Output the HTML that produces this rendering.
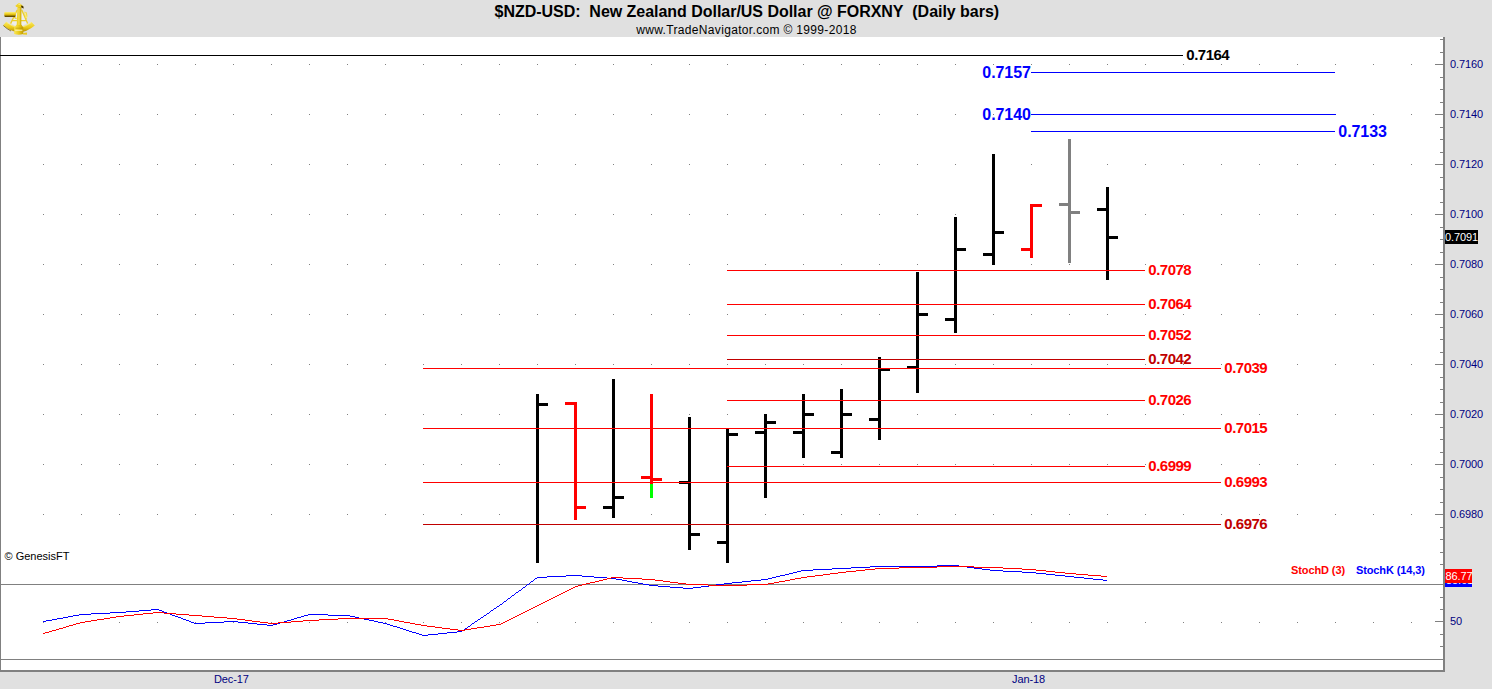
<!DOCTYPE html><html><head><meta charset="utf-8"><title>chart</title><style>
html,body{margin:0;padding:0}body{width:1492px;height:689px;background:#e0e0e0;position:relative;overflow:hidden;font-family:"Liberation Sans",sans-serif}
.t{position:absolute;white-space:nowrap;line-height:1}
.b{font-weight:bold}
.ax{font-size:11px;color:#000080;letter-spacing:-0.1px}
</style></head><body>
<svg width="1492" height="689" viewBox="0 0 1492 689" shape-rendering="crispEdges" style="position:absolute;left:0;top:0">
<defs><pattern id="dots" x="43" y="64" width="38" height="50" patternUnits="userSpaceOnUse"><rect x="0" y="0" width="1" height="1" fill="#808080"/></pattern></defs>
<rect x="0" y="37" width="1443" height="633" fill="#fff"/>
<rect x="43" y="64" width="1369" height="451" fill="url(#dots)"/>
<g fill="#808080"><rect x="43" y="622" width="1" height="1"/><rect x="81" y="622" width="1" height="1"/><rect x="119" y="622" width="1" height="1"/><rect x="157" y="622" width="1" height="1"/><rect x="195" y="622" width="1" height="1"/><rect x="233" y="622" width="1" height="1"/><rect x="271" y="622" width="1" height="1"/><rect x="309" y="622" width="1" height="1"/><rect x="347" y="622" width="1" height="1"/><rect x="385" y="622" width="1" height="1"/><rect x="423" y="622" width="1" height="1"/><rect x="461" y="622" width="1" height="1"/><rect x="499" y="622" width="1" height="1"/><rect x="537" y="622" width="1" height="1"/><rect x="575" y="622" width="1" height="1"/><rect x="613" y="622" width="1" height="1"/><rect x="651" y="622" width="1" height="1"/><rect x="689" y="622" width="1" height="1"/><rect x="727" y="622" width="1" height="1"/><rect x="765" y="622" width="1" height="1"/><rect x="803" y="622" width="1" height="1"/><rect x="841" y="622" width="1" height="1"/><rect x="879" y="622" width="1" height="1"/><rect x="917" y="622" width="1" height="1"/><rect x="955" y="622" width="1" height="1"/><rect x="993" y="622" width="1" height="1"/><rect x="1031" y="622" width="1" height="1"/><rect x="1069" y="622" width="1" height="1"/><rect x="1107" y="622" width="1" height="1"/><rect x="1145" y="622" width="1" height="1"/><rect x="1183" y="622" width="1" height="1"/><rect x="1221" y="622" width="1" height="1"/><rect x="1259" y="622" width="1" height="1"/><rect x="1297" y="622" width="1" height="1"/><rect x="1335" y="622" width="1" height="1"/><rect x="1373" y="622" width="1" height="1"/><rect x="1411" y="622" width="1" height="1"/></g>
<rect x="0" y="37" width="1" height="635" fill="#808080"/>
<rect x="0" y="584" width="1443" height="1" fill="#808080"/>
<rect x="0" y="659" width="1443" height="1" fill="#808080"/>
<g fill="#000">
<rect x="536" y="394" width="3" height="169"/>
<rect x="539" y="403" width="9" height="3"/>
</g>
<g fill="#f00">
<rect x="574" y="402" width="3" height="118"/>
<rect x="565" y="402" width="9" height="3"/>
<rect x="577" y="506" width="9" height="3"/>
</g>
<g fill="#000">
<rect x="612" y="379" width="3" height="139"/>
<rect x="603" y="506" width="9" height="3"/>
<rect x="615" y="496" width="9" height="3"/>
</g>
<g fill="#f00">
<rect x="650" y="394" width="3" height="90"/>
<rect x="641" y="476" width="9" height="3"/>
<rect x="653" y="478" width="9" height="3"/>
</g>
<g fill="#000">
<rect x="688" y="417" width="3" height="133"/>
<rect x="679" y="481" width="9" height="3"/>
<rect x="691" y="533" width="9" height="3"/>
</g>
<g fill="#000">
<rect x="726" y="428" width="3" height="135"/>
<rect x="717" y="541" width="9" height="3"/>
<rect x="729" y="433" width="9" height="3"/>
</g>
<g fill="#000">
<rect x="764" y="414" width="3" height="84"/>
<rect x="755" y="431" width="9" height="3"/>
<rect x="767" y="421" width="9" height="3"/>
</g>
<g fill="#000">
<rect x="802" y="394" width="3" height="64"/>
<rect x="793" y="431" width="9" height="3"/>
<rect x="805" y="413" width="9" height="3"/>
</g>
<g fill="#000">
<rect x="840" y="389" width="3" height="69"/>
<rect x="831" y="451" width="9" height="3"/>
<rect x="843" y="413" width="9" height="3"/>
</g>
<g fill="#000">
<rect x="878" y="357" width="3" height="83"/>
<rect x="869" y="418" width="9" height="3"/>
<rect x="881" y="368" width="9" height="3"/>
</g>
<g fill="#000">
<rect x="916" y="272" width="3" height="121"/>
<rect x="907" y="366" width="9" height="3"/>
<rect x="919" y="313" width="9" height="3"/>
</g>
<g fill="#000">
<rect x="954" y="217" width="3" height="116"/>
<rect x="945" y="318" width="9" height="3"/>
<rect x="957" y="248" width="9" height="3"/>
</g>
<g fill="#000">
<rect x="992" y="154" width="3" height="111"/>
<rect x="983" y="253" width="9" height="3"/>
<rect x="995" y="231" width="9" height="3"/>
</g>
<g fill="#f00">
<rect x="1030" y="204" width="3" height="54"/>
<rect x="1021" y="248" width="9" height="3"/>
<rect x="1033" y="204" width="9" height="3"/>
</g>
<g fill="#808080">
<rect x="1068" y="139" width="3" height="124"/>
<rect x="1059" y="203" width="9" height="3"/>
<rect x="1071" y="211" width="9" height="3"/>
</g>
<g fill="#000">
<rect x="1106" y="187" width="3" height="93"/>
<rect x="1097" y="208" width="9" height="3"/>
<rect x="1109" y="236" width="9" height="3"/>
</g>
<rect x="650" y="484" width="3" height="14" fill="#0f0"/>
<rect x="0" y="55" width="1183" height="1" fill="#000"/>
<rect x="1031" y="72" width="304" height="1" fill="#00f"/>
<rect x="1031" y="114" width="305" height="1" fill="#00f"/>
<rect x="1031" y="131" width="304" height="1" fill="#00f"/>
<rect x="727" y="270" width="418" height="1" fill="#f00"/>
<rect x="727" y="304" width="418" height="1" fill="#f00"/>
<rect x="727" y="335" width="418" height="1" fill="#f00"/>
<rect x="727" y="359" width="418" height="1" fill="#c00000"/>
<rect x="423" y="368" width="798" height="1" fill="#f00"/>
<rect x="727" y="400" width="418" height="1" fill="#f00"/>
<rect x="423" y="428" width="798" height="1" fill="#f00"/>
<rect x="727" y="466" width="418" height="1" fill="#f00"/>
<rect x="423" y="482" width="798" height="1" fill="#f00"/>
<rect x="423" y="524" width="798" height="1" fill="#c00000"/>
<path d="M937 565h22v1h-22zM870 566h67v1h-67zM959 566h8v1h-8zM851 567h19v1h-19zM967 567h7v1h-7zM832 568h19v1h-19zM974 568h8v1h-8zM813 569h19v1h-19zM982 569h8v1h-8zM801 570h12v1h-12zM990 570h13v1h-13zM797 571h4v1h-4zM1003 571h19v1h-19zM793 572h4v1h-4zM1022 572h14v1h-14zM789 573h4v1h-4zM1036 573h10v1h-10zM785 574h4v1h-4zM1046 574h9v1h-9zM566 575h16v1h-16zM780 575h5v1h-5zM1055 575h10v1h-10zM547 576h19v1h-19zM582 576h12v1h-12zM776 576h4v1h-4zM1065 576h9v1h-9zM537 577h10v1h-10zM594 577h13v1h-13zM772 577h4v1h-4zM1074 577h10v1h-10zM535 578h2v1h-2zM607 578h9v1h-9zM768 578h4v1h-4zM1084 578h9v1h-9zM534 579h1v1h-1zM616 579h6v1h-6zM761 579h7v1h-7zM1093 579h10v1h-10zM533 580h1v1h-1zM622 580h5v1h-5zM751 580h10v1h-10zM1103 580h4v1h-4zM531 581h2v1h-2zM627 581h5v1h-5zM742 581h9v1h-9zM530 582h1v1h-1zM632 582h6v1h-6zM732 582h10v1h-10zM529 583h1v1h-1zM638 583h5v1h-5zM724 583h8v1h-8zM527 584h2v1h-2zM643 584h6v1h-6zM716 584h8v1h-8zM526 585h1v1h-1zM649 585h9v1h-9zM709 585h7v1h-7zM525 586h1v1h-1zM658 586h12v1h-12zM701 586h8v1h-8zM523 587h2v1h-2zM670 587h13v1h-13zM693 587h8v1h-8zM522 588h1v1h-1zM683 588h10v1h-10zM521 589h1v1h-1zM519 590h2v1h-2zM518 591h1v1h-1zM516 592h2v1h-2zM515 593h1v1h-1zM514 594h1v1h-1zM512 595h2v1h-2zM511 596h1v1h-1zM510 597h1v1h-1zM508 598h2v1h-2zM507 599h1v1h-1zM506 600h1v1h-1zM504 601h2v1h-2zM503 602h1v1h-1zM502 603h1v1h-1zM500 604h2v1h-2zM499 605h1v1h-1zM497 606h2v1h-2zM496 607h1v1h-1zM494 608h2v1h-2zM151 609h8v1h-8zM493 609h1v1h-1zM139 610h12v1h-12zM159 610h3v1h-3zM491 610h2v1h-2zM126 611h13v1h-13zM162 611h2v1h-2zM490 611h1v1h-1zM110 612h16v1h-16zM164 612h3v1h-3zM489 612h1v1h-1zM91 613h19v1h-19zM167 613h3v1h-3zM487 613h2v1h-2zM79 614h12v1h-12zM170 614h2v1h-2zM308 614h20v1h-20zM486 614h1v1h-1zM73 615h6v1h-6zM172 615h3v1h-3zM304 615h4v1h-4zM328 615h22v1h-22zM484 615h2v1h-2zM68 616h5v1h-5zM175 616h3v1h-3zM301 616h3v1h-3zM350 616h5v1h-5zM483 616h1v1h-1zM63 617h5v1h-5zM178 617h3v1h-3zM297 617h4v1h-4zM355 617h4v1h-4zM481 617h2v1h-2zM57 618h6v1h-6zM181 618h2v1h-2zM294 618h3v1h-3zM359 618h5v1h-5zM480 618h1v1h-1zM52 619h5v1h-5zM183 619h3v1h-3zM291 619h3v1h-3zM364 619h5v1h-5zM478 619h2v1h-2zM46 620h6v1h-6zM186 620h3v1h-3zM287 620h4v1h-4zM369 620h5v1h-5zM477 620h1v1h-1zM43 621h3v1h-3zM189 621h2v1h-2zM224 621h14v1h-14zM284 621h3v1h-3zM374 621h4v1h-4zM475 621h2v1h-2zM191 622h3v1h-3zM205 622h19v1h-19zM238 622h10v1h-10zM280 622h4v1h-4zM378 622h5v1h-5zM474 622h1v1h-1zM194 623h11v1h-11zM248 623h9v1h-9zM277 623h3v1h-3zM383 623h4v1h-4zM472 623h2v1h-2zM257 624h10v1h-10zM273 624h4v1h-4zM387 624h3v1h-3zM471 624h1v1h-1zM267 625h6v1h-6zM390 625h3v1h-3zM470 625h1v1h-1zM393 626h4v1h-4zM468 626h2v1h-2zM397 627h3v1h-3zM467 627h1v1h-1zM400 628h3v1h-3zM465 628h2v1h-2zM403 629h3v1h-3zM464 629h1v1h-1zM406 630h3v1h-3zM462 630h2v1h-2zM409 631h3v1h-3zM457 631h5v1h-5zM412 632h4v1h-4zM447 632h10v1h-10zM416 633h3v1h-3zM438 633h9v1h-9zM419 634h3v1h-3zM428 634h10v1h-10zM422 635h6v1h-6z" fill="#00f"/>
<path d="M937 566h37v1h-37zM899 567h38v1h-38zM974 567h29v1h-29zM875 568h24v1h-24zM1003 568h19v1h-19zM865 569h10v1h-10zM1022 569h14v1h-14zM856 570h9v1h-9zM1036 570h10v1h-10zM846 571h10v1h-10zM1046 571h9v1h-9zM838 572h8v1h-8zM1055 572h10v1h-10zM830 573h8v1h-8zM1065 573h11v1h-11zM823 574h7v1h-7zM1076 574h12v1h-12zM815 575h8v1h-8zM1088 575h13v1h-13zM807 576h8v1h-8zM1101 576h6v1h-6zM611 577h12v1h-12zM801 577h6v1h-6zM607 578h4v1h-4zM623 578h19v1h-19zM795 578h6v1h-6zM603 579h4v1h-4zM642 579h13v1h-13zM790 579h5v1h-5zM599 580h4v1h-4zM655 580h8v1h-8zM785 580h5v1h-5zM595 581h4v1h-4zM663 581h7v1h-7zM779 581h6v1h-6zM590 582h5v1h-5zM670 582h8v1h-8zM774 582h5v1h-5zM586 583h4v1h-4zM678 583h8v1h-8zM768 583h6v1h-6zM582 584h4v1h-4zM686 584h22v1h-22zM747 584h21v1h-21zM578 585h4v1h-4zM708 585h39v1h-39zM575 586h3v1h-3zM573 587h2v1h-2zM571 588h2v1h-2zM569 589h2v1h-2zM567 590h2v1h-2zM565 591h2v1h-2zM563 592h2v1h-2zM561 593h2v1h-2zM559 594h2v1h-2zM557 595h2v1h-2zM555 596h2v1h-2zM553 597h2v1h-2zM551 598h2v1h-2zM549 599h2v1h-2zM547 600h2v1h-2zM545 601h2v1h-2zM543 602h2v1h-2zM541 603h2v1h-2zM539 604h2v1h-2zM537 605h2v1h-2zM535 606h2v1h-2zM533 607h2v1h-2zM531 608h2v1h-2zM529 609h2v1h-2zM527 610h2v1h-2zM525 611h2v1h-2zM153 612h11v1h-11zM523 612h2v1h-2zM143 613h10v1h-10zM164 613h12v1h-12zM521 613h2v1h-2zM134 614h9v1h-9zM176 614h13v1h-13zM519 614h2v1h-2zM124 615h10v1h-10zM189 615h13v1h-13zM517 615h2v1h-2zM116 616h8v1h-8zM202 616h12v1h-12zM515 616h2v1h-2zM110 617h6v1h-6zM214 617h13v1h-13zM513 617h2v1h-2zM104 618h6v1h-6zM227 618h10v1h-10zM338 618h50v1h-50zM511 618h2v1h-2zM97 619h7v1h-7zM237 619h8v1h-8zM319 619h19v1h-19zM388 619h6v1h-6zM509 619h2v1h-2zM91 620h6v1h-6zM245 620h7v1h-7zM303 620h16v1h-16zM394 620h5v1h-5zM507 620h2v1h-2zM85 621h6v1h-6zM252 621h8v1h-8zM291 621h12v1h-12zM399 621h5v1h-5zM505 621h2v1h-2zM80 622h5v1h-5zM260 622h8v1h-8zM278 622h13v1h-13zM404 622h6v1h-6zM503 622h2v1h-2zM76 623h4v1h-4zM268 623h10v1h-10zM410 623h5v1h-5zM501 623h2v1h-2zM73 624h3v1h-3zM415 624h6v1h-6zM496 624h5v1h-5zM69 625h4v1h-4zM421 625h6v1h-6zM490 625h6v1h-6zM66 626h3v1h-3zM427 626h8v1h-8zM484 626h6v1h-6zM63 627h3v1h-3zM435 627h7v1h-7zM477 627h7v1h-7zM59 628h4v1h-4zM442 628h8v1h-8zM471 628h6v1h-6zM56 629h3v1h-3zM450 629h8v1h-8zM465 629h6v1h-6zM52 630h4v1h-4zM458 630h7v1h-7zM49 631h3v1h-3zM45 632h4v1h-4zM43 633h2v1h-2z" fill="#f00"/>
<rect x="1443" y="37" width="2" height="635" fill="#808080"/>
<rect x="0" y="670" width="1445" height="2" fill="#808080"/>
<rect x="1440" y="39" width="3" height="1" fill="#808080"/>
<rect x="1440" y="52" width="3" height="1" fill="#808080"/>
<rect x="1435" y="64" width="8" height="1" fill="#808080"/>
<rect x="1440" y="77" width="3" height="1" fill="#808080"/>
<rect x="1440" y="89" width="3" height="1" fill="#808080"/>
<rect x="1440" y="102" width="3" height="1" fill="#808080"/>
<rect x="1435" y="114" width="8" height="1" fill="#808080"/>
<rect x="1440" y="127" width="3" height="1" fill="#808080"/>
<rect x="1440" y="139" width="3" height="1" fill="#808080"/>
<rect x="1440" y="152" width="3" height="1" fill="#808080"/>
<rect x="1435" y="164" width="8" height="1" fill="#808080"/>
<rect x="1440" y="177" width="3" height="1" fill="#808080"/>
<rect x="1440" y="189" width="3" height="1" fill="#808080"/>
<rect x="1440" y="202" width="3" height="1" fill="#808080"/>
<rect x="1435" y="214" width="8" height="1" fill="#808080"/>
<rect x="1440" y="227" width="3" height="1" fill="#808080"/>
<rect x="1440" y="239" width="3" height="1" fill="#808080"/>
<rect x="1440" y="252" width="3" height="1" fill="#808080"/>
<rect x="1435" y="264" width="8" height="1" fill="#808080"/>
<rect x="1440" y="277" width="3" height="1" fill="#808080"/>
<rect x="1440" y="289" width="3" height="1" fill="#808080"/>
<rect x="1440" y="302" width="3" height="1" fill="#808080"/>
<rect x="1435" y="314" width="8" height="1" fill="#808080"/>
<rect x="1440" y="327" width="3" height="1" fill="#808080"/>
<rect x="1440" y="339" width="3" height="1" fill="#808080"/>
<rect x="1440" y="352" width="3" height="1" fill="#808080"/>
<rect x="1435" y="364" width="8" height="1" fill="#808080"/>
<rect x="1440" y="377" width="3" height="1" fill="#808080"/>
<rect x="1440" y="389" width="3" height="1" fill="#808080"/>
<rect x="1440" y="402" width="3" height="1" fill="#808080"/>
<rect x="1435" y="414" width="8" height="1" fill="#808080"/>
<rect x="1440" y="427" width="3" height="1" fill="#808080"/>
<rect x="1440" y="439" width="3" height="1" fill="#808080"/>
<rect x="1440" y="452" width="3" height="1" fill="#808080"/>
<rect x="1435" y="464" width="8" height="1" fill="#808080"/>
<rect x="1440" y="477" width="3" height="1" fill="#808080"/>
<rect x="1440" y="489" width="3" height="1" fill="#808080"/>
<rect x="1440" y="502" width="3" height="1" fill="#808080"/>
<rect x="1435" y="514" width="8" height="1" fill="#808080"/>
<rect x="1440" y="527" width="3" height="1" fill="#808080"/>
<rect x="1440" y="539" width="3" height="1" fill="#808080"/>
<rect x="1440" y="552" width="3" height="1" fill="#808080"/>
<rect x="1440" y="564" width="3" height="1" fill="#808080"/>
<rect x="1440" y="597" width="3" height="1" fill="#808080"/>
<rect x="1440" y="609" width="3" height="1" fill="#808080"/>
<rect x="1440" y="634" width="3" height="1" fill="#808080"/>
<rect x="1440" y="646" width="3" height="1" fill="#808080"/>
<rect x="1435" y="621" width="8" height="1" fill="#808080"/>
</svg>
<div class="t b" id="title" style="left:494.6px;top:4px;font-size:16px;color:#000;letter-spacing:-0.03px">$NZD-USD:&nbsp; New Zealand Dollar/US Dollar @ FORXNY&nbsp; (Daily bars)</div>
<div class="t" id="sub" style="left:636.3px;top:24px;font-size:12px;color:#000;letter-spacing:0.33px">www.TradeNavigator.com © 1999-2018</div>
<div class="t" id="gen" style="left:4.5px;top:551px;font-size:11px;color:#000">© GenesisFT</div>
<div class="t b lab" id="l0" style="left:1186.3px;top:47px;font-size:15.0px;color:#000;letter-spacing:-0.50px">0.7164</div>
<div class="t b lab" id="l1" style="left:982.3px;top:65px;font-size:16.0px;color:#00f;letter-spacing:-0.06px">0.7157</div>
<div class="t b lab" id="l2" style="left:982.3px;top:107px;font-size:16.0px;color:#00f;letter-spacing:-0.06px">0.7140</div>
<div class="t b lab" id="l3" style="left:1338.3px;top:124px;font-size:16.0px;color:#00f;letter-spacing:-0.06px">0.7133</div>
<div class="t b lab" id="l4" style="left:1148.3px;top:262px;font-size:15.0px;color:#f00;letter-spacing:-0.50px">0.7078</div>
<div class="t b lab" id="l5" style="left:1148.3px;top:296px;font-size:15.0px;color:#f00;letter-spacing:-0.50px">0.7064</div>
<div class="t b lab" id="l6" style="left:1148.3px;top:327px;font-size:15.0px;color:#f00;letter-spacing:-0.50px">0.7052</div>
<div class="t b lab" id="l7" style="left:1148.3px;top:351px;font-size:15.0px;color:#c00000;letter-spacing:-0.50px">0.7042</div>
<div class="t b lab" id="l8" style="left:1224.3px;top:360px;font-size:15.0px;color:#f00;letter-spacing:-0.50px">0.7039</div>
<div class="t b lab" id="l9" style="left:1148.3px;top:392px;font-size:15.0px;color:#f00;letter-spacing:-0.50px">0.7026</div>
<div class="t b lab" id="l10" style="left:1224.3px;top:420px;font-size:15.0px;color:#f00;letter-spacing:-0.50px">0.7015</div>
<div class="t b lab" id="l11" style="left:1148.3px;top:458px;font-size:15.0px;color:#f00;letter-spacing:-0.50px">0.6999</div>
<div class="t b lab" id="l12" style="left:1224.3px;top:474px;font-size:15.0px;color:#f00;letter-spacing:-0.50px">0.6993</div>
<div class="t b lab" id="l13" style="left:1224.3px;top:516px;font-size:15.0px;color:#c00000;letter-spacing:-0.50px">0.6976</div>
<div class="t ax" style="left:1450px;top:59px">0.7160</div>
<div class="t ax" style="left:1450px;top:109px">0.7140</div>
<div class="t ax" style="left:1450px;top:159px">0.7120</div>
<div class="t ax" style="left:1450px;top:209px">0.7100</div>
<div class="t ax" style="left:1450px;top:259px">0.7080</div>
<div class="t ax" style="left:1450px;top:309px">0.7060</div>
<div class="t ax" style="left:1450px;top:359px">0.7040</div>
<div class="t ax" style="left:1450px;top:409px">0.7020</div>
<div class="t ax" style="left:1450px;top:459px">0.7000</div>
<div class="t ax" style="left:1450px;top:509px">0.6980</div>
<div class="t ax" style="left:1450px;top:616px">50</div>
<div class="t ax" id="dec" style="left:214px;top:674px">Dec-17</div>
<div class="t ax" id="jan" style="left:1012px;top:674px">Jan-18</div>
<div class="t" style="left:1445px;top:230px;width:33px;height:14px;background:#000"></div>
<div class="t" id="pb" style="left:1445px;top:232px;font-size:11px;color:#fff;letter-spacing:-0.1px">0.7091</div>
<div class="t" style="left:1445px;top:573px;width:27px;height:14px;background:#00f"></div>
<div class="t" style="left:1446px;top:575px;font-size:11px;color:#fff;letter-spacing:-0.1px">85.61</div>
<div class="t" style="left:1445px;top:569px;width:27px;height:14px;background:#f00"></div>
<div class="t" id="sb" style="left:1445.5px;top:571px;font-size:11px;color:#fff;letter-spacing:-0.1px">86.77</div>
<div class="t b" id="sd" style="left:1291px;top:565px;font-size:11px;color:#f00;letter-spacing:-0.1px">StochD (3)</div>
<div class="t b" id="sk" style="left:1356px;top:565px;font-size:11px;color:#00f;letter-spacing:-0.12px">StochK (14,3)</div>
<svg width="40" height="38" viewBox="0 0 40 38" style="position:absolute;left:0;top:0">
<defs>
<linearGradient id="gA" x1="0" y1="0" x2="1" y2="0"><stop offset="0" stop-color="#f8e65a"/><stop offset="0.5" stop-color="#ebcb1a"/><stop offset="1" stop-color="#c29c04"/></linearGradient>
<linearGradient id="gT" x1="0" y1="0" x2="0" y2="1"><stop offset="0" stop-color="#fff27a"/><stop offset="0.5" stop-color="#e8c510"/><stop offset="1" stop-color="#4a3600"/></linearGradient>
<linearGradient id="gL" x1="0" y1="0" x2="0" y2="1"><stop offset="0" stop-color="#fbea62"/><stop offset="0.55" stop-color="#ebca1a"/><stop offset="1" stop-color="#b08a00"/></linearGradient>
</defs>
<path d="M17 11 L10.8 23.2 L18.8 27.4 L27.4 23.2 L21.8 11 Z" fill="#fff" opacity="0.45"/>
<path d="M17.2 10 L10.6 23.6 M21.8 10 L27.6 23.4 M11.8 20.6 L26.6 20.6 M13.4 17 L16.6 18.6" stroke="#ecce2a" stroke-width="1.3" fill="none"/>
<path d="M24.4 11.6 L26.9 12.4 L27.4 16 L26.6 19.4 L25 17.4 Z" fill="#f1d943"/>
<path d="M25.2 12.6 L26.4 18" stroke="#fff6a0" stroke-width="0.8"/>
<path d="M3.2 25.2 L6.3 21.7 Q18.8 31.6 31.5 21.9 L34.8 25.5 Q18.8 39 3.2 25.2 Z" fill="url(#gL)"/>
<path d="M3.3 25.5 Q7 29 11 31" stroke="#5e4600" stroke-width="0.9" fill="none" opacity="0.75"/>
<path d="M6.6 22.4 Q18.8 32 31.2 22.6" stroke="#fff6a0" stroke-width="0.9" fill="none" opacity="0.7"/>
<path d="M17.5 6.5 L21.5 6.5 L21.3 24.5 L23.3 27.5 L23.3 34 Q18.8 35.4 14.1 34 L14.3 27.5 L16.7 24.5 Z" fill="url(#gA)"/>
<path d="M19 8 L19 25" stroke="#fff38a" stroke-width="0.9" opacity="0.75"/>
<path d="M15.2 30.3 L22.4 30.3" stroke="#fff8b8" stroke-width="1.1" opacity="0.85"/>
<path d="M15.4 28.2 L22.4 28.2" stroke="#a88600" stroke-width="0.7" opacity="0.7"/>
<path d="M15.4 5.8 L19 2.8 L22.6 5.4 L21.8 6.9 L16.2 6.9 Z" fill="#eed22a"/>
<path d="M18.2 4 L20.4 4.4" stroke="#fff6a0" stroke-width="0.9"/>
<path d="M20.8 5.4 L23.2 6 L23.8 8.6 L21.6 7.8 Z" fill="#4a3800"/>
<rect x="4.3" y="11.9" width="11.4" height="5" rx="0.8" fill="url(#gT)"/>
<path d="M23 33 L27 32.4 L27 34.8 L23 34.4 Z" fill="#e8c820"/>
</svg>
</body></html>
